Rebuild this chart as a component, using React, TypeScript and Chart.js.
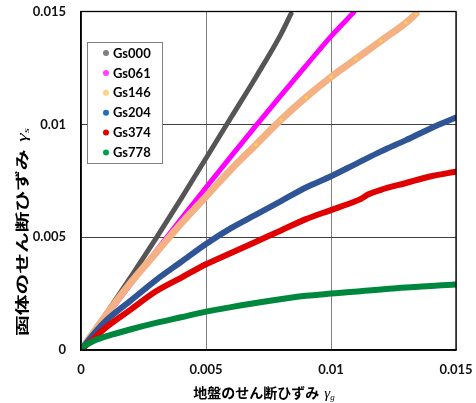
import React, { useEffect, useRef } from "react";
import { Chart, registerables } from "chart.js";

Chart.register(...registerables);

const SERIES_NAMES = ["Gs000", "Gs061", "Gs146", "Gs204", "Gs374", "Gs778"];

const GS000: [number, number][] = [
  [0, 0], [0.001, 0.0016], [0.002, 0.00325], [0.003, 0.00495], [0.004, 0.0067],
  [0.005, 0.0085], [0.006, 0.0103], [0.007, 0.0121], [0.008, 0.014], [0.0084, 0.0149],
];
const GS061: [number, number][] = [
  [0, 0], [0.001, 0.00148], [0.002, 0.00294], [0.003, 0.00438], [0.004, 0.0058],
  [0.005, 0.0072], [0.006, 0.00858], [0.007, 0.00994], [0.008, 0.01128], [0.009, 0.0126],
  [0.01, 0.0139], [0.0109, 0.01495],
];
const GS146: [number, number][] = [
  [0, 0], [0.001, 0.00155], [0.002, 0.003], [0.003, 0.0043], [0.004, 0.0056],
  [0.005, 0.0068], [0.006, 0.008], [0.007, 0.0091], [0.008, 0.0102], [0.009, 0.0112],
  [0.01, 0.0121], [0.011, 0.0129], [0.012, 0.0137], [0.013, 0.0145], [0.0134, 0.0149],
];
const GS204: [number, number][] = [
  [0, 0], [0.0005, 0.0007], [0.001, 0.0013], [0.002, 0.0022], [0.003, 0.0031],
  [0.004, 0.0039], [0.005, 0.0047], [0.006, 0.0054], [0.007, 0.006], [0.008, 0.0066],
  [0.009, 0.0072], [0.01, 0.0077], [0.011, 0.00825], [0.012, 0.0088], [0.013, 0.0093],
  [0.014, 0.00983], [0.015, 0.0103],
];
const GS374: [number, number][] = [
  [0, 0], [0.0005, 0.0005], [0.001, 0.001], [0.002, 0.0018], [0.003, 0.0026],
  [0.004, 0.0032], [0.005, 0.0038], [0.006, 0.0043], [0.007, 0.0048], [0.008, 0.0053],
  [0.009, 0.0058], [0.01, 0.0062], [0.011, 0.0066], [0.0112, 0.0067], [0.0115, 0.0069],
  [0.012, 0.0071], [0.013, 0.0074], [0.014, 0.0077], [0.015, 0.0079],
];
const GS778: [number, number][] = [
  [0, 0.0001], [0.0005, 0.0004], [0.0013, 0.0007], [0.002, 0.00092], [0.003, 0.0012],
  [0.004, 0.00145], [0.005, 0.0017], [0.006, 0.0019], [0.0075, 0.00217], [0.009, 0.0024],
  [0.01, 0.0025], [0.0125, 0.00273], [0.015, 0.0029],
];

const SERIES_DATA = [GS000, GS061, GS146, GS204, GS374, GS778];

const AXIS_TICKS = [0, 0.005, 0.01, 0.015];
const TICK_LABELS = ["0", "0.005", "0.01", "0.015"];

const X_TITLE = "地盤のせん断ひずみ";
const X_SYMBOL = "γ";
const X_SUB = "g";
const Y_TITLE = "函体のせん断ひずみ";
const Y_SYMBOL = "γ";
const Y_SUB = "s";

const LINE_COLORS = ["#555555", "#FF00FF", "#F4B183", "#2F5597", "#E00000", "#00873E"];
const MARKER_COLORS = ["#7F7F7F", "#FF40FF", "#FFD27F", "#1F6FC0", "#E00000", "#00A050"];
const LINE_WIDTHS = [5, 5, 7, 6, 6, 6];

const TICK_FONT = { family: "Lato", weight: "bold" as const, size: 13 };

const overlayPlugin = {
  id: "overlay",
  afterDraw(chart: any) {
    const ctx = chart.ctx as CanvasRenderingContext2D;
    const a = chart.chartArea;
    ctx.save();
    ctx.strokeStyle = "#000";
    ctx.lineWidth = 1.3;
    ctx.strokeRect(a.left, a.top, a.right - a.left, a.bottom - a.top);

    // legend
    const lx = 87, ly = 42, lw = 75, lh = 121;
    ctx.fillStyle = "#fff";
    ctx.fillRect(lx, ly, lw, lh);
    ctx.strokeStyle = "#808080";
    ctx.lineWidth = 1;
    ctx.strokeRect(lx + 0.5, ly + 0.5, lw, lh);
    ctx.font = "bold 13px Lato";
    ctx.textBaseline = "middle";
    ctx.textAlign = "left";
    chart.data.datasets.forEach((ds: any, i: number) => {
      const y = 53 + i * 19.9;
      ctx.beginPath();
      ctx.arc(106, y, 3, 0, Math.PI * 2);
      ctx.fillStyle = ds.markerColor;
      ctx.fill();
      ctx.fillStyle = "#000";
      ctx.fillText(ds.label, 113, y + 0.5);
    });

    // x title
    ctx.fillStyle = "#000";
    const jf = "bold 14px 'Noto Sans CJK JP'";
    const gf = "italic 15px 'Liberation Serif'";
    const sf = "italic 9px 'Liberation Serif'";
    ctx.font = jf;
    const w1 = ctx.measureText(X_TITLE).width;
    ctx.font = gf;
    const w2 = ctx.measureText(X_SYMBOL).width;
    ctx.font = sf;
    const w3 = ctx.measureText(X_SUB).width;
    const gap = 5;
    const total = w1 + gap + w2 + w3;
    const x0 = 264 - total / 2;
    const ty = 393;
    ctx.textBaseline = "middle";
    ctx.font = jf;
    ctx.fillText(X_TITLE, x0, ty);
    ctx.font = gf;
    ctx.fillText(X_SYMBOL, x0 + w1 + gap, ty + 1);
    ctx.font = sf;
    ctx.fillText(X_SUB, x0 + w1 + gap + w2, ty + 5);

    // y title (stretched along its length as in the reference)
    ctx.save();
    ctx.translate(22, 232);
    ctx.rotate(-Math.PI / 2);
    ctx.scale(1.48, 1);
    ctx.font = jf;
    const v1 = ctx.measureText(Y_TITLE).width;
    ctx.font = gf;
    const v2 = ctx.measureText(Y_SYMBOL).width;
    ctx.font = sf;
    const v3 = ctx.measureText(Y_SUB).width;
    const vt = v1 + gap + v2 + v3;
    const y0 = -vt / 2;
    ctx.font = jf;
    ctx.fillText(Y_TITLE, y0, 0);
    ctx.font = gf;
    ctx.fillText(Y_SYMBOL, y0 + v1 + gap, 1);
    ctx.font = sf;
    ctx.fillText(Y_SUB, y0 + v1 + gap + v2, 5);
    ctx.restore();

    ctx.restore();
  },
};

export default function App() {
  const ref = useRef<HTMLCanvasElement | null>(null);
  useEffect(() => {
    if (!ref.current) return;
    const datasets = SERIES_NAMES.map((name, i) => ({
      label: name,
      data: SERIES_DATA[i].map(([x, y]) => ({ x, y })),
      borderColor: LINE_COLORS[i],
      backgroundColor: i === 2 ? "#FFD34D" : LINE_COLORS[i],
      markerColor: MARKER_COLORS[i],
      borderWidth: LINE_WIDTHS[i],
      borderCapStyle: "round" as const,
      borderJoinStyle: "round" as const,
      pointRadius: i === 2 ? (c: any) => (c.raw && c.raw.x > 0.0065 ? 1.6 : 0) : 0,
      pointBorderWidth: 0,
      showLine: true,
      cubicInterpolationMode: "monotone" as const,
      order: SERIES_NAMES.length - i,
    }));
    const mkTicks = (scale: any) => {
      scale.ticks = AXIS_TICKS.map((v) => ({ value: v }));
    };
    const chart = new Chart(ref.current, {
      type: "scatter",
      data: { datasets: datasets as any },
      options: {
        animation: false,
        responsive: false,
        maintainAspectRatio: false,
        layout: { padding: { left: 0, right: 20, top: 11.5, bottom: 0 } },
        plugins: { legend: { display: false }, tooltip: { enabled: false } },
        scales: {
          x: {
            type: "linear",
            min: 0,
            max: 0.015,
            afterBuildTicks: mkTicks,
            afterFit: (s: any) => {
              s.height = 53;
              s.paddingLeft = 0;
              s.paddingRight = 0;
            },
            grid: { color: "#808080", lineWidth: 1, drawTicks: false },
            border: { color: "#000", width: 1.3 },
            ticks: {
              padding: 12,
              font: TICK_FONT,
              color: "#111",
              maxRotation: 0,
              callback: (v: any) => TICK_LABELS[AXIS_TICKS.indexOf(Number(v))] ?? "",
            },
          },
          y: {
            type: "linear",
            min: 0,
            max: 0.015,
            afterBuildTicks: mkTicks,
            afterFit: (s: any) => {
              s.width = 81;
              s.paddingTop = 0;
              s.paddingBottom = 0;
            },
            grid: { color: "#404040", lineWidth: 1, drawTicks: false },
            border: { color: "#000", width: 1.3 },
            ticks: {
              padding: 15,
              font: TICK_FONT,
              color: "#111",
              callback: (v: any) => TICK_LABELS[AXIS_TICKS.indexOf(Number(v))] ?? "",
            },
          },
        },
      },
      plugins: [overlayPlugin],
    });
    return () => chart.destroy();
  }, []);
  return (
    <div style={{ position: "absolute", left: 0, top: 0, width: 476, height: 403, background: "#fff" }}>
      <canvas ref={ref} width={476} height={403} style={{ display: "block" }} />
    </div>
  );
}
